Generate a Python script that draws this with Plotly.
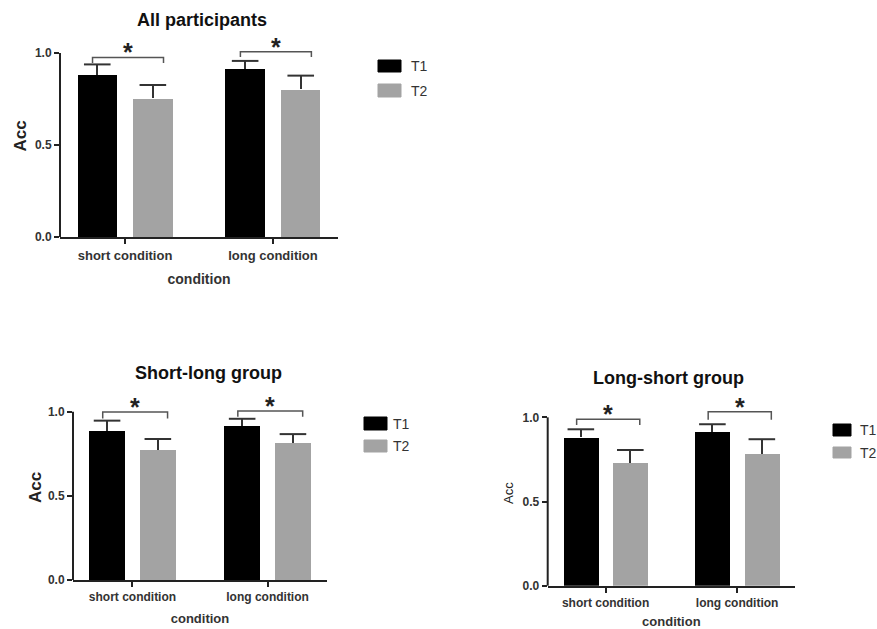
import plotly.graph_objects as go

# ---- data ----
conditions = ["short condition", "long condition"]
series_names = ["T1", "T2"]

panel_titles = ["All participants", "Short-long group", "Long-short group"]

# mean accuracy per panel
all_T1 = [0.882, 0.913]
all_T2 = [0.754, 0.803]
all_T1_err = [0.056, 0.044]
all_T2_err = [0.072, 0.074]

sl_T1 = [0.885, 0.913]
sl_T2 = [0.774, 0.812]
sl_T1_err = [0.062, 0.045]
sl_T2_err = [0.064, 0.055]

ls_T1 = [0.882, 0.915]
ls_T2 = [0.731, 0.783]
ls_T1_err = [0.047, 0.044]
ls_T2_err = [0.075, 0.087]

# significance brackets: level of bracket line and bottom of its arms
all_br_top = [0.976, 1.007]
all_br_bot = [0.946, 0.978]
sl_br_top = [0.998, 1.004]
sl_br_bot = [0.960, 0.970]
ls_br_top = [0.988, 1.033]
ls_br_bot = [0.955, 0.985]
sig_label = "*"

y_ticks = [0.0, 0.5, 1.0]
y_ticklabels = ["0.0", "0.5", "1.0"]

# ---- styles ----
C_T1 = "#000000"
C_T2 = "#a3a3a3"
AX = "#222222"
ERR = "#333333"
FONT = "Arial"
OFF = 0.188
BW = 0.267
YMAX = 1.1
YLINE_TOP = 1.0

panels = [
    dict(T1=all_T1, T2=all_T2, e1=all_T1_err, e2=all_T2_err, bt=all_br_top, bb=all_br_bot,
         xd=[60/877, 338/877], yd=[1-237/629, 1-34.6/629], tick=13, xt=14, yt=17, ytb=True,
         xstand=13, ystand=3, title_xy=(202, 20), tsize=18,
         leg=(378, 401, 60, 72, 84, 97, 409)),
    dict(T1=sl_T1, T2=sl_T2, e1=sl_T1_err, e2=sl_T2_err, bt=sl_br_top, bb=sl_br_bot,
         xd=[73/877, 327/877], yd=[1-580/629, 1-394.9/629], tick=12, xt=13, yt=17, ytb=True,
         xstand=10, ystand=1, title_xy=(208, 373), tsize=18,
         leg=(364, 387, 417, 430, 440, 452, 391)),
    dict(T1=ls_T1, T2=ls_T2, e1=ls_T1_err, e2=ls_T2_err, bt=ls_br_top, bb=ls_br_bot,
         xd=[547.7/877, 795/877], yd=[1-585.7/629, 1-400.5/629], tick=12, xt=13, yt=13, ytb=False,
         xstand=10, ystand=6, title_xy=(668, 378), tsize=18,
         leg=(833, 851, 424, 436, 447, 458, 858)),
]

fig = go.Figure()
shapes = []
annotations = []
layout_axes = {}
gx = list(range(len(conditions)))

for i, p in enumerate(panels):
    sfx = "" if i == 0 else str(i + 1)
    xa, ya = "x" + sfx, "y" + sfx
    for name, vals, errs, col, sgn in [("T1", p["T1"], p["e1"], C_T1, -1), ("T2", p["T2"], p["e2"], C_T2, 1)]:
        xs = [g + sgn * OFF for g in gx]
        fig.add_trace(go.Bar(
            x=xs, y=vals, width=BW, name=name,
            marker=dict(color=col, line=dict(color=col, width=0)),
            error_y=dict(type="data", array=errs, arrayminus=[0] * len(errs), symmetric=False,
                         color=ERR, thickness=2, width=0),
            xaxis=xa, yaxis=ya, showlegend=False, cliponaxis=False,
        ))
        # caps at the top end of each error bar only
        fig.add_trace(go.Scatter(
            x=xs, y=[v + e for v, e in zip(vals, errs)], mode="markers",
            marker=dict(symbol="line-ew", size=19, line=dict(color=ERR, width=2)),
            xaxis=xa, yaxis=ya, showlegend=False, hoverinfo="skip", cliponaxis=False,
        ))
    # brackets
    for g, top, bot in zip(gx, p["bt"], p["bb"]):
        x0, x1 = g - 0.22, g + 0.26
        fig.add_trace(go.Scatter(
            x=[x0, x0, x1, x1], y=[bot, top, top, bot], mode="lines",
            line=dict(color="#555555", width=1.5), xaxis=xa, yaxis=ya,
            showlegend=False, hoverinfo="skip", cliponaxis=False,
        ))
        annotations.append(dict(
            x=(x0 + x1) / 2, y=top, xref=xa, yref=ya, text="<b>" + sig_label + "</b>", showarrow=False,
            yanchor="middle", yshift=5, font=dict(family=FONT, size=25, color="#222222"),
        ))
    layout_axes["xaxis" + sfx] = dict(
        domain=p["xd"], anchor=ya, range=[-0.44, 1.44], tickvals=gx, ticktext=conditions,
        showline=True, linecolor=AX, linewidth=2, ticks="outside", ticklen=5, tickwidth=2,
        tickcolor=AX, showgrid=False, zeroline=False, automargin=False,
        tickfont=dict(family=FONT, size=p["tick"], color="#333333", weight="bold"),
        title=dict(text="condition", standoff=p["xstand"],
                   font=dict(family=FONT, size=p["xt"], color="#333333", weight="bold")),
    )
    layout_axes["yaxis" + sfx] = dict(
        domain=p["yd"], anchor=xa, range=[0, YMAX], tickvals=y_ticks, ticktext=y_ticklabels,
        showline=False, ticks="outside", ticklen=5, tickwidth=2,
        tickcolor=AX, showgrid=False, zeroline=False, automargin=False,
        tickfont=dict(family=FONT, size=12, color="#333333", weight="bold"),
        title=dict(text="Acc", standoff=p["ystand"],
                   font=dict(family=FONT, size=p["yt"], color="#222222",
                             weight="bold" if p["ytb"] else "normal")),
    )
    # y axis line from 0 up to 1.0 only
    y0d, y1d = p["yd"]
    shapes.append(dict(type="line", xref="paper", yref="paper",
                       x0=p["xd"][0], x1=p["xd"][0],
                       y0=y0d, y1=y0d + (y1d - y0d) * YLINE_TOP / YMAX,
                       line=dict(color=AX, width=2)))
    tx, ty = p["title_xy"]
    annotations.append(dict(
        x=tx / 877, y=1 - ty / 629, xref="paper", yref="paper", text="<b>" + panel_titles[i] + "</b>",
        showarrow=False, xanchor="center", yanchor="middle",
        font=dict(family=FONT, size=p["tsize"], color="#111111"),
    ))
    # legend
    lx0, lx1, a0, a1, b0, b1, tx0 = p["leg"]
    for (s0, s1, col, name) in [(a0, a1, C_T1, series_names[0]), (b0, b1, C_T2, series_names[1])]:
        shapes.append(dict(type="rect", xref="paper", yref="paper",
                           x0=lx0 / 877, x1=lx1 / 877, y0=1 - s1 / 629, y1=1 - s0 / 629,
                           fillcolor=col, line=dict(color=col, width=1)))
        annotations.append(dict(
            x=tx0 / 877, y=1 - (s0 + s1) / 2 / 629, xref="paper", yref="paper", text=name,
            showarrow=False, xanchor="left", yanchor="middle",
            font=dict(family=FONT, size=14, color="#333333"),
        ))

fig.update_layout(
    width=877, height=629, margin=dict(l=0, r=0, t=0, b=0, pad=0, autoexpand=False),
    paper_bgcolor="white", plot_bgcolor="white", hovermode=False,
    shapes=shapes, annotations=annotations, bargap=0, **layout_axes,
)
fig.write_html("out.html", config={"displayModeBar": False},
               post_script="document.body.style.margin='0';document.body.style.overflow='hidden';")
